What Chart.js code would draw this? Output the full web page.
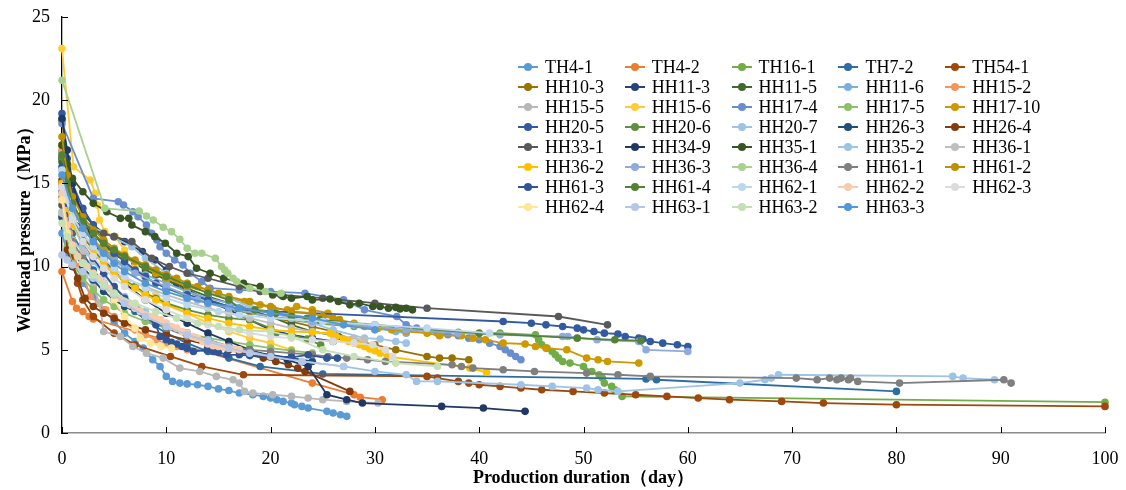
<!DOCTYPE html>
<html>
<head>
<meta charset="utf-8">
<script src="https://cdn.jsdelivr.net/npm/chart.js@4.4.1/dist/chart.umd.min.js"></script>
<style>
  body { margin: 0; background: #fff; }
  #wrap { position: relative; width: 1126px; height: 490px; }
  #legend {
    position: absolute; left: 518px; top: 57px;
    display: grid; grid-template-columns: repeat(5, 106.8px); grid-auto-rows: 20px;
    font-family: "Liberation Serif", "Times New Roman", serif; font-size: 18px; color: #000;
  }
  .item { display: flex; align-items: center; white-space: nowrap; }
  .mark { position: relative; width: 20px; height: 2px; margin-right: 7px; }
  .mark i { position: absolute; left: 6px; top: -3px; width: 8px; height: 8px; border-radius: 50%; }
</style>
</head>
<body>
<div id="wrap">
  <canvas id="c" width="1126" height="490"></canvas>
  <div id="legend"></div>
</div>
<script>
const wellNames = ['TH4-1','TH4-2','TH16-1','TH7-2','TH54-1','HH10-3','HH11-3','HH11-5','HH11-6','HH15-2',
  'HH15-5','HH15-6','HH17-4','HH17-5','HH17-10','HH20-5','HH20-6','HH20-7','HH26-3','HH26-4',
  'HH33-1','HH34-9','HH35-1','HH35-2','HH36-1','HH36-2','HH36-3','HH36-4','HH61-1','HH61-2',
  'HH61-3','HH61-4','HH62-1','HH62-2','HH62-3','HH62-4','HH63-1','HH63-2','HH63-3'];

const wellColors = ['#5B9BD5','#ED7D31','#70AD47','#2E6DA4','#9E480E','#997300','#264478','#43682B','#7CAFDD','#F1975A',
  '#B7B7B7','#FFCD33','#698ED0','#8CC168','#CC9900','#335AA1','#5E8E3E','#9DC3E6','#1F4E79','#843C0C',
  '#595959','#203864','#375623','#9DC3E6','#BFBFBF','#FFC000','#8FAADC','#A9D18E','#7F7F7F','#BF9000',
  '#2F5597','#548235','#BDD7EE','#F8CBAD','#DBDBDB','#FFE699','#B4C7E7','#C5E0B4','#5596D6'];

// [day, MPa]
const th4_1 = [[0,12.0],[0.5,10.8],[1,10.0],[2,9.0],[3,8.2],[4,7.4],[5,6.7],[6,6.0],[7,5.5],[7.8,5.1],[8.7,4.4],[9.4,4.0],[10,3.4],[10.6,3.1],[11.3,3.0],[12,2.95],[13,2.9],[14,2.8],[15,2.65],[16,2.55],[17,2.4],[18.3,2.3],[19.3,2.2],[20,2.1],[20.6,2.0],[21.2,1.9],[22,1.8],[22.3,1.7],[23,1.6],[23.6,1.5],[25.4,1.3],[26,1.2],[26.7,1.1],[27.3,1.0]];
const th4_2 = [[0,9.7],[1,7.9],[1.4,7.5],[2,7.3],[2.6,7.0],[3,6.85],[24,3.0],[28,2.3],[28.6,2.15],[30.7,2.0]];
const th16_1 = [[0,16.9],[0.5,14.8],[1,13.5],[2,12.3],[3,11.5],[4,10.9],[5,10.4],[6,10.0],[8,9.3],[10,8.7],[12,8.2],[14,7.8],[17,7.3],[20,7.0],[24,6.6],[28,6.4],[33,6.2],[38,6.05],[42,6.0],[45.4,5.9],[45.7,5.6],[46,5.3],[46.5,5.1],[47,4.9],[47.3,4.7],[47.6,4.5],[48,4.3],[48.7,4.2],[50,4.0],[50.8,3.7],[51.5,3.5],[51.8,3.3],[52,3.0],[52.7,2.8],[53,2.6],[53.7,2.2],[100,1.85]];
const th7_2 = [[0,14.5],[0.5,13.0],[1,12.0],[2,10.8],[3,9.8],[4,9.0],[5,8.4],[6,7.8],[7,7.3],[8,6.8],[10,6.0],[12,5.4],[14,4.9],[16,4.5],[19,4.0],[25,3.55],[56,3.25],[57,3.2],[80,2.5]];
const th54_1 = [[0,15.0],[0.5,12.5],[1,10.5],[1.5,9.0],[2,8.0],[3,7.0],[5,6.0],[7,5.3],[10.4,4.6],[13.4,4.0],[17.4,3.5],[35,3.4],[36,3.3],[38,3.1],[39,3.0],[40,2.9],[42,2.8],[44,2.7],[46,2.6],[49,2.5],[52,2.4],[55,2.3],[58,2.2],[61,2.1],[64,2.0],[69,1.9],[73,1.8],[80,1.7],[100,1.6]];
const hh10_3 = [[0,18.8],[0.5,16.0],[1,14.5],[2,13.0],[3,12.0],[4,11.2],[5,10.8],[6,10.5],[7,10.3],[8,10.0],[9,9.6],[10,9.2],[12,8.5],[14,8.0],[16,7.6],[18,7.3],[20,7.0],[22,6.7],[24,6.4],[26,6.1],[27.8,5.6],[30,5.3],[32,5.0],[35,4.6],[36.2,4.5],[37.4,4.5],[39,4.4]];
const hh11_3 = [[0,16.5],[1,14.5],[2,13.2],[3,12.5],[4,12.0],[5,11.8],[6,11.5],[7.7,10.9],[8.9,10.4],[10,9.8],[11,9.0],[12,8.6],[14,8.0],[16,7.4],[18,6.8],[20,6.2],[22,5.9],[24,5.7],[26,5.5]];
const hh11_5 = [[0,16.3],[0.5,14.8],[1,13.6],[2,12.8],[3,12.0],[4,11.3],[5,10.9],[6,10.6],[7,10.2],[8,9.8],[9,9.5],[10,9.2],[12,8.7],[14,8.2],[16,7.8],[18,7.4],[20,7.0],[22,6.5],[24,6.1],[26.5,5.8]];
const hh11_6 = [[0,16.8],[0.5,15.0],[1,13.8],[2,12.5],[3,11.6],[4,11.0],[5,10.5],[6,10.1],[7,9.8],[8,9.5],[10,9.0],[12,8.5],[14,8.1],[16,7.8],[18,7.5],[20,7.3],[22,7.1],[24,6.9],[26,6.7],[28,6.5],[30,6.3],[32,6.1],[33,6.0]];
const hh15_2 = [[0,17.0],[0.3,14.5],[0.7,12.0],[1,11.0],[1.5,10.0],[2,9.6],[2.7,8.2],[3.5,7.8],[4.2,7.4],[5,7.0],[6,6.6],[7,6.2],[8,5.9],[9,5.6],[10,5.4],[11,5.2],[12,5.0]];
const hh15_5 = [[0,14.0],[1,11.5],[2,9.8],[3,8.8],[3.6,7.8],[4,6.1],[5.6,5.8],[6.8,5.2],[8.1,4.8],[9.7,4.5],[11.3,3.9],[13.2,3.7],[14.8,3.4],[16.4,3.2],[17,3.0],[17.5,2.5],[18.3,2.4],[20.2,2.3],[22,2.2],[23.6,2.1],[25,2.0],[27.3,1.9],[30.3,1.8]];
const hh15_6 = [[0,23.1],[1.1,16.0],[2.7,15.2],[3.2,14.4],[3.4,13.7],[3.6,12.8],[4.1,12.1],[5.1,11.8],[6,11.0],[7,10.0],[8,9.0],[9,8.3],[10,7.8],[12,7.2],[14,6.6],[16,6.1],[18,5.7],[20,5.4],[22,5.0]];
const hh17_4 = [[0,18.6],[3,14.1],[5.4,13.9],[5.9,13.7],[6.8,13.3],[7.3,13.0],[8.1,12.5],[8.6,12.0],[9.1,11.6],[9.4,11.2],[10,10.8],[10.8,10.4],[11.6,10.1],[12.3,9.6],[13.4,9.1],[14.2,8.7],[17,8.6],[20,8.5],[23.3,8.4],[27,8.0],[29,7.4],[32.1,7.0],[33,6.5],[34,6.3],[35,6.1],[36,6.0],[37,5.9],[38,5.85],[39,5.7],[40,5.6],[41,5.4],[42,5.2],[42.5,5.0],[43,4.8],[43.5,4.6],[44,4.4]];
const hh17_5 = [[0,12.9],[0.5,11.2],[1,10.2],[2,9.3],[3,8.6],[4,8.0],[5,7.6],[6,7.2],[8,6.7],[10,6.3],[12,6.0],[14,5.7],[16,5.5],[18,5.3],[20,5.1],[22,4.95],[24,4.8]];
const hh17_10 = [[0,17.3],[0.5,15.0],[1,13.8],[2,12.5],[3,11.6],[4,11.0],[5,10.7],[6,10.5],[7,10.3],[8,10.0],[9,9.6],[10,9.3],[12,8.8],[14,8.5],[16,8.1],[17.5,7.9],[19,7.7],[20.2,7.5],[21.6,7.4],[22.5,7.6],[24,7.4],[25.5,7.2],[26.6,6.8],[28,6.6],[29,6.4],[30.3,6.3],[31.6,6.2],[33,6.1],[35,6.0],[36.2,5.85],[38.3,5.85],[39.4,5.7],[40.6,5.6],[42.3,5.4],[44.4,5.35],[45.4,5.2],[46.4,5.1],[48.4,5.0],[50.3,4.5],[51.4,4.4],[52.3,4.3],[55.3,4.2]];
const hh20_5 = [[0,19.2],[0.5,16.5],[1,15.0],[2,13.5],[3,12.5],[4,11.5],[5,10.8],[6,10.3],[7,9.8],[8,9.4],[9,9.0],[10,8.7],[12,8.3],[14,8.0],[17,7.4],[24,7.2],[42.3,6.7],[45,6.6],[46.4,6.5],[48,6.4],[49.4,6.3],[50,6.2],[51,6.1],[52,6.0],[53.3,5.95],[54,5.8],[55.3,5.7],[55.7,5.65],[56.4,5.5],[57.6,5.4],[59,5.3],[60,5.2]];
const hh20_6 = [[0,16.6],[0.5,14.5],[1,13.0],[2,11.8],[3,11.0],[4,10.3],[5,9.7],[6,9.2],[7,8.8],[8,8.4],[9,8.1],[10,7.8],[12,7.4],[14,7.1],[16,6.9],[18,6.8],[20,6.3],[20.5,6.0],[22,5.9],[23.5,5.65],[24.8,5.3]];
const hh20_7 = [[0,13.3],[6.7,11.2],[8,10.5],[10,9.6],[12,9.0],[14,8.5],[16,8.1],[18,7.6],[20,7.2],[22,6.9],[24,6.6],[26,6.2],[29,5.7],[30.5,5.65],[32,5.5],[33,5.4]];
const hh26_3 = [[0,13.0],[0.5,11.8],[1,11.0],[2,10.0],[3,9.2],[4,8.5],[5,8.0],[6,7.6],[8,7.0],[10,6.5],[12,6.0],[14,5.6],[16,5.2],[18,4.9],[20,4.7],[22,4.5],[24,4.3]];
const hh26_4 = [[0,15.2],[0.5,11.0],[1,10.0],[1.5,9.3],[2.2,8.1],[3,7.6],[4,7.2],[5,6.9],[6,6.6],[8,6.2],[10,5.9],[12,5.6],[14,5.3],[16,5.0],[18,4.7],[19.3,4.5],[20.5,4.3],[21.7,4.1],[22.6,3.9],[23.3,3.7],[27.6,2.5]];
const hh33_1 = [[0,13.7],[0.5,13.2],[1,12.8],[2,12.4],[3,12.2],[4,12.0],[5,11.8],[6.7,11.5],[8.6,10.5],[10.3,10.0],[12,9.6],[14,9.3],[17,8.8],[19,8.5],[21,8.3],[25,8.1],[30,7.8],[35,7.5],[47.6,7.0],[52.3,6.5]];
const hh34_9 = [[0,18.9],[0.5,17.0],[1,15.0],[2,13.0],[3,11.5],[4,10.5],[5,9.8],[6,9.0],[8,8.0],[10,7.2],[12,6.6],[14,6.0],[16,5.5],[18,5.0],[20,4.6],[21.6,4.4],[23.6,4.0],[25.4,2.3],[27.3,2.0],[28.8,1.8],[36.4,1.6],[40.4,1.5],[44.4,1.3]];
const hh35_1 = [[0,17.3],[0.5,16.2],[1,15.3],[2,14.5],[3,13.8],[4.3,13.3],[5.6,12.9],[6.4,12.9],[6.7,12.5],[8.0,12.1],[8.9,11.8],[9.9,11.4],[11.0,10.8],[12.1,10.6],[12.9,9.9],[14.2,9.6],[15.5,9.3],[17.4,9.0],[19.0,8.8],[20.2,8.3],[21.2,8.2],[22,8.1],[23.5,8.2],[24,8.0],[25.7,8.05],[26.5,7.9],[27.6,7.7],[28.5,7.8],[29.8,7.6],[30.5,7.6],[31.3,7.5],[32.0,7.55],[32.4,7.45],[33.0,7.5],[33.6,7.4]];
const hh35_2 = [[0,15.8],[0.5,13.8],[1,12.6],[2,11.2],[3,10.3],[4,9.5],[5,8.8],[6,8.2],[8,7.3],[10,6.6],[12,6.0],[14,5.6],[16,5.2],[18,4.9],[20,4.6],[23,4.3],[27,4.0],[30,3.7],[33,3.5],[34,3.1],[36,3.1],[44,2.9],[47,2.8],[50.3,2.7],[51.4,2.6],[53.3,2.5],[65,3.0],[67.4,3.2],[68,3.3],[68.7,3.5],[85.4,3.4],[86.4,3.3],[89.4,3.2]];
const hh36_1 = [[0,13.2],[0.5,12.1],[1,11.6],[2,10.9],[3,10.4],[4,10.0],[5,9.6],[6,9.3],[8,8.8],[10,8.3],[12,7.9],[14,7.5],[16,7.2],[18,6.9],[20,6.6],[22,6.3],[24,6.1],[26,5.9],[28,5.7],[29,5.6]];
const hh36_2 = [[0,15.0],[0.5,13.5],[1,12.5],[2,11.5],[3,10.8],[4,10.2],[5,9.6],[6,9.1],[7,8.7],[8,8.3],[9,8.0],[10,7.7],[12,7.2],[14,6.9],[16,6.6],[18,6.4],[20,6.2],[22,6.1],[24,6.05],[25.7,6.0],[26.3,5.8],[27,5.65],[27.5,5.5],[28,5.4],[28.5,5.3],[29,5.2],[29.5,5.05],[30,4.95],[30.5,4.8],[31.2,4.6],[39.1,3.9],[40.7,3.65]];
const hh36_3 = [[0,14.8],[1,13.0],[2,12.0],[3,11.2],[5,10.3],[7,9.6],[10,8.8],[13,8.0],[16,7.5],[20,7.0],[24,6.7],[28,6.5],[33,6.2],[38,6.0],[42,5.9],[48,5.8],[48.5,5.8],[51.3,5.6],[55.3,5.5],[56,5.0],[60,4.9]];
const hh36_4 = [[0,21.2],[4.1,13.5],[7.4,13.34],[8.1,13.04],[8.75,12.8],[9.7,12.36],[10.5,12.1],[11.3,11.64],[12.0,11.1],[12.75,10.8],[13.4,10.8],[14.7,10.5],[15.3,10.0],[15.6,9.8],[15.9,9.6],[16.4,9.3],[16.75,9.1],[18,8.7],[19.5,8.5],[21,8.4]];
const hh61_1 = [[0,14.2],[0.5,12.5],[1,11.5],[2,10.5],[3,9.6],[4,8.9],[5,8.3],[6,7.8],[8,7.0],[10,6.3],[12,5.8],[14,5.4],[16,5.2],[18,5.0],[20,4.9],[22,4.8],[24,4.7],[25.5,4.6],[27.3,4.5],[29.3,4.4],[31,4.3],[37.4,4.1],[38.3,4.0],[39.4,3.9],[42.3,3.8],[45.3,3.7],[50.3,3.6],[53.3,3.5],[56.4,3.4],[70.4,3.3],[72.4,3.2],[73.6,3.3],[74.3,3.2],[74.7,3.3],[75.4,3.2],[75.6,3.3],[76.3,3.1],[80.3,3.0],[90.3,3.2],[91,3.0]];
const hh61_2 = [[0,17.8],[0.5,15.5],[1,14.2],[2,13.0],[3,12.2],[4,11.6],[5,11.1],[6,10.7],[7,10.4],[8,10.1],[9,9.8],[10,9.5],[11,9.3],[12,9.0],[13,8.8],[14,8.6],[15,8.4],[16,8.2],[18,7.9],[20,7.6],[22,7.3],[24,7.2],[25,7.0],[26,6.9],[26.6,6.8]];
const hh61_3 = [[0,16.0],[0.5,13.8],[1,12.8],[2,11.5],[3,10.5],[4,9.6],[5,8.8],[6,8.1],[7,7.5],[8,7.0],[9,6.5],[9.4,5.8],[10,5.6],[10.5,5.45],[11,5.35],[11.5,5.2],[12,5.1],[12.6,4.9],[13.9,5.0],[14.5,4.9],[15,4.85],[15.8,4.7],[17,4.7],[18,4.65],[20,4.6],[22,4.55],[23.6,4.7],[25.4,4.5],[26.4,4.5]];
const hh61_4 = [[0,16.7],[0.5,15.0],[1,13.8],[2,12.7],[3,12.0],[4,11.4],[5,11.0],[6,10.6],[8,10.0],[10,9.4],[12,8.9],[14,8.4],[16,8.0],[17,7.5],[18.5,7.4],[20.5,7.2],[22,7.0],[23.5,6.9],[24.7,6.8],[30,6.5],[40,6.0],[49.4,5.7],[53,5.6],[55.5,5.55]];
const hh62_1 = [[0,15.8],[0.5,14.0],[1,13.0],[2,12.0],[3,11.2],[4,10.5],[5,9.9],[6,9.4],[8,8.7],[10,8.1],[12,7.7],[15,7.3],[17,7.1],[20,6.9],[25,6.7],[30,6.5],[35,6.3],[41,6.0]];
const hh62_2 = [[0,14.4],[0.5,12.5],[1,11.3],[1.5,10.6],[2,10.2],[2.4,10.0],[3,9.6],[3.5,9.3],[4,9.0],[4.5,8.7],[5,8.4],[5.5,8.1],[6,7.9],[6.5,7.7],[7,7.5],[7.5,7.3],[8,7.1],[8.5,7.0],[9,6.9],[9.5,6.8],[10,6.6],[10.5,6.4],[11,6.3],[11.5,6.1],[12,6.0],[12.5,5.8],[13,5.7],[13.5,5.5],[14,5.35],[14.5,5.25],[15,5.2],[15.5,5.15],[16,5.1],[16.5,5.05],[17,5.0]];
const hh62_3 = [[0,14.8],[1,12.8],[2,11.5],[3,10.6],[4,9.9],[5,9.3],[6,8.8],[8,8.0],[10,7.4],[12,6.9],[14,6.5],[16,6.2],[18,6.0],[20,5.8],[22,5.7],[24,5.6],[26,5.5],[28,5.4],[29.8,5.3],[31,5.0],[31.7,4.6]];
const hh62_4 = [[0,14.0],[0.5,12.0],[1,11.0],[2,10.2],[3,9.5],[4,8.8],[5,8.0],[6,7.0],[7,6.3],[7.5,5.7],[8.5,5.4],[9.5,5.2],[10.5,5.1]];
const hh63_1 = [[0,10.7],[0.5,10.4],[1,10.1],[2,9.7],[3,9.3],[4,8.8],[5,8.3],[6,7.8],[8,7.0],[10,6.4],[12,5.9],[14,5.5],[16,5.1],[18,4.8],[20,4.6],[23,4.3],[27,4.0]];
const hh63_2 = [[0,12.6],[0.5,11.8],[1,11.0],[2,10.2],[3,9.5],[4,8.9],[5,8.4],[7,7.8],[9,7.3],[11,6.9],[13,6.6],[15,6.4],[17,6.2],[20,6.1],[22,5.8],[25,5.0],[28,4.6],[32,4.2],[36,4.0]];
const hh63_3 = [[0,15.5],[1,13.5],[2,12.3],[3,11.5],[4,10.8],[5,10.2],[6,9.7],[8,9.0],[10,8.5],[12,8.1],[14,7.8],[17,7.5],[20,7.2],[24,6.9],[27,6.5],[30,6.2]];

const wellSeries = [th4_1, th4_2, th16_1, th7_2, th54_1, hh10_3, hh11_3, hh11_5, hh11_6, hh15_2,
  hh15_5, hh15_6, hh17_4, hh17_5, hh17_10, hh20_5, hh20_6, hh20_7, hh26_3, hh26_4,
  hh33_1, hh34_9, hh35_1, hh35_2, hh36_1, hh36_2, hh36_3, hh36_4, hh61_1, hh61_2,
  hh61_3, hh61_4, hh62_1, hh62_2, hh62_3, hh62_4, hh63_1, hh63_2, hh63_3];

const xTicks = [0, 10, 20, 30, 40, 50, 60, 70, 80, 90, 100];
const yTicks = [0, 5, 10, 15, 20, 25];

const serif = '"Liberation Serif", "Times New Roman", serif';

const datasets = wellSeries.map((pts, i) => ({
  label: wellNames[i],
  data: pts.map(p => ({ x: p[0], y: p[1] })),
  showLine: true,
  borderColor: wellColors[i],
  backgroundColor: wellColors[i],
  pointBorderColor: wellColors[i],
  pointBackgroundColor: wellColors[i],
  borderWidth: 1.8,
  pointRadius: 3.8,
  pointBorderWidth: 0,
  tension: 0,
  clip: false,
  order: -i
}));

// Excel style tick marks pointing into the plot
const innerTicks = {
  id: 'innerTicks',
  afterDraw(chart) {
    const { ctx, scales: { x, y } } = chart;
    ctx.save();
    ctx.strokeStyle = '#000';
    ctx.lineWidth = 1;
    xTicks.forEach(v => {
      const px = Math.round(x.getPixelForValue(v)) + 0.5;
      ctx.beginPath();
      ctx.moveTo(px, y.bottom);
      ctx.lineTo(px, y.bottom - 6);
      ctx.stroke();
    });
    yTicks.forEach(v => {
      const py = Math.round(y.getPixelForValue(v)) + 0.5;
      ctx.beginPath();
      ctx.moveTo(x.left, py);
      ctx.lineTo(x.left + 6, py);
      ctx.stroke();
    });
    ctx.restore();
  }
};

// pin the plot area to the original's edges
function noEdgePadding(s) {
  s.paddingLeft = 0; s.paddingRight = 0; s.paddingTop = 0; s.paddingBottom = 0;
}

new Chart(document.getElementById('c'), {
  type: 'scatter',
  data: { datasets: datasets },
  options: {
    responsive: false,
    animation: false,
    layout: { padding: { top: 17, right: 21, left: 0, bottom: 0 } },
    plugins: { legend: { display: false }, tooltip: { enabled: false } },
    scales: {
      x: {
        type: 'linear', min: 0, max: 100,
        afterFit(s) { s.height = 57; noEdgePadding(s); },
        afterBuildTicks(s) { s.ticks = xTicks.map(v => ({ value: v })); },
        grid: { display: true, drawOnChartArea: false, drawTicks: false },
        border: { color: '#8c8c8c', width: 1.5 },
        ticks: { padding: 15, color: '#000', font: { family: serif, size: 18 } },
        title: { display: true, text: 'Production duration（day）', color: '#000',
                 font: { family: serif, size: 18, weight: 'bold' }, padding: { top: 0, bottom: 1 } }
      },
      y: {
        type: 'linear', min: 0, max: 25,
        afterFit(s) { s.width = 62; noEdgePadding(s); },
        afterBuildTicks(s) { s.ticks = yTicks.map(v => ({ value: v })); },
        grid: { display: true, drawOnChartArea: false, drawTicks: false },
        border: { color: '#000', width: 1.3 },
        ticks: { padding: 12, color: '#000', font: { family: serif, size: 18 } },
        title: { display: true, text: 'Wellhead pressure（MPa）', color: '#000',
                 font: { family: serif, size: 18, weight: 'bold' }, padding: { top: 15, bottom: 0 } }
      }
    }
  },
  plugins: [innerTicks]
});

// legend laid out in five columns like the original
const legendBox = document.getElementById('legend');
wellNames.forEach((name, i) => {
  const item = document.createElement('div');
  item.className = 'item';
  item.innerHTML = `<span class="mark" style="background:${wellColors[i]}"><i style="background:${wellColors[i]}"></i></span>${name}`;
  legendBox.appendChild(item);
});
</script>
</body>
</html>
